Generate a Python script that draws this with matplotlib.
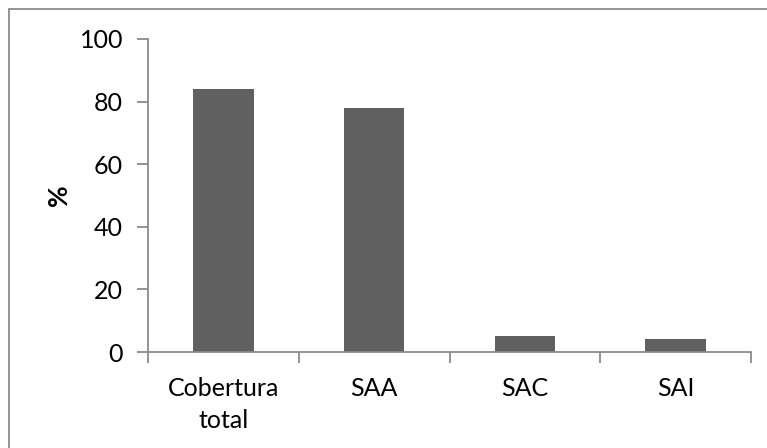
import numpy as np
import matplotlib.pyplot as plt
from matplotlib.patches import Rectangle

categorias = ['Cobertura\ntotal', 'SAA', 'SAC', 'SAI']
valores = [84, 78, 5, 4]

plt.rcParams['font.family'] = ['Lato', 'DejaVu Sans']
fs = 18

fig = plt.figure(figsize=(7.67, 4.48), dpi=100)
ax = fig.add_axes([148 / 767, 1 - 352 / 448, (751 - 148) / 767, (352 - 39) / 448])

x = np.arange(len(categorias))
ax.bar(x, valores, width=0.4, color='#606060', zorder=2)

ax.set_xlim(-0.5, len(categorias) - 0.5)
ax.set_ylim(0, 100)
ax.set_yticks(np.arange(0, 101, 20))
ax.set_xticks(x)
ax.set_xticklabels(categorias, fontsize=fs, linespacing=1.45)
ax.set_xticks(np.arange(-0.5, len(categorias), 1), minor=True)

axis_grey = '#8a8a8a'
for side in ['top', 'right']:
    ax.spines[side].set_visible(False)
for side in ['left', 'bottom']:
    ax.spines[side].set_color(axis_grey)
    ax.spines[side].set_linewidth(1.3)

ax.tick_params(axis='y', direction='out', length=8, width=1.3, color=axis_grey,
               labelsize=fs, pad=10)
ax.tick_params(axis='x', which='major', length=0, pad=18)
ax.tick_params(axis='x', which='minor', direction='out', length=8, width=1.3,
               color=axis_grey)

ax.set_ylabel('%', fontsize=fs + 1, fontweight='bold', labelpad=6)

# chart frame, cut off at the right and bottom edges
fig.patches.append(Rectangle((8.5 / 767, -0.1), 1.2, 1 - 9 / 448 + 0.1,
                             transform=fig.transFigure, fill=False,
                             edgecolor='#8c8c8c', linewidth=1.3))

fig.savefig('out.png', dpi=100)
